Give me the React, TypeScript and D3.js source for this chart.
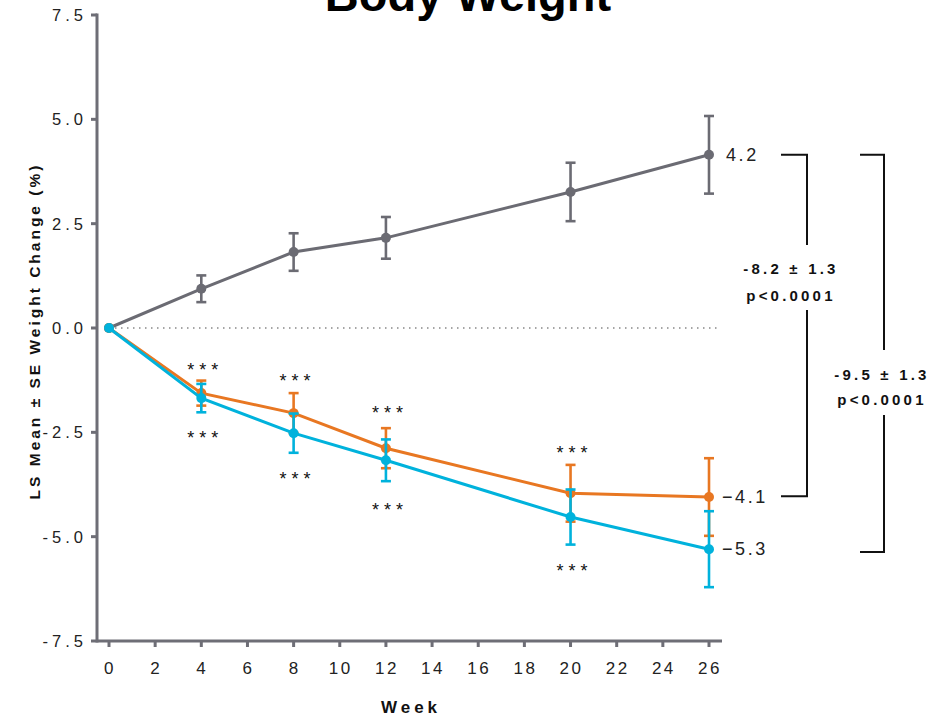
import React from "react";
import * as d3 from "d3";

const weeks = [0, 4, 8, 12, 20, 26];
const placeboMean = [0, 0.94, 1.82, 2.16, 3.26, 4.15];
const placeboSE = [0, 0.32, 0.45, 0.5, 0.7, 0.93];
const orangeMean = [0, -1.56, -2.04, -2.88, -3.96, -4.05];
const orangeSE = [0, 0.3, 0.48, 0.48, 0.68, 0.93];
const cyanMean = [0, -1.68, -2.52, -3.17, -4.53, -5.3];
const cyanSE = [0, 0.34, 0.47, 0.5, 0.66, 0.91];

const yTicks = [7.5, 5.0, 2.5, 0.0, -2.5, -5.0, -7.5];
const xTicks = d3.range(0, 27, 2);

const starWeeks = [4, 8, 12, 20];
const starsAbove = [-0.96, -1.22, -1.99, -2.95];
const starsBelow = [-2.59, -3.57, -4.32, -5.78];

const endLabels = ["4.2", "\u22124.1", "\u22125.3"];
const compare1 = ["-8.2 \u00b1 1.3", "p<0.0001"];
const compare2 = ["-9.5 \u00b1 1.3", "p<0.0001"];

const GRAY = "#6b6b73";
const ORANGE = "#e87722";
const CYAN = "#00b2dc";
const AXIS = "#6e6e76";
const FONT = "'Liberation Sans', Arial, Helvetica, sans-serif";

export default function App() {
  const W = 929, H = 716;
  const x = d3.scaleLinear().domain([0, 26]).range([109, 709]);
  const y = d3.scaleLinear().domain([-7.5, 7.5]).range([641, 15]);
  const line = d3.line<number>().x((_, i) => x(weeks[i])).y((v) => y(v));

  const series = [
    { mean: placeboMean, se: placeboSE, color: GRAY },
    { mean: orangeMean, se: orangeSE, color: ORANGE },
    { mean: cyanMean, se: cyanSE, color: CYAN },
  ];

  const axisLeft = 97;
  const axisBottom = 641;

  const bracket = (xl: number, xr: number, top: number, bottom: number, gapTop: number, gapBot: number) => (
    <g stroke="#111" strokeWidth={2} fill="none">
      <path d={`M${xl},${y(top)}H${xr}V${gapTop}`} />
      <path d={`M${xr},${gapBot}V${y(bottom)}H${xl}`} />
    </g>
  );

  return (
    <svg width={W} height={H} style={{ position: "absolute", left: 0, top: 0, background: "#fff" }} fontFamily={FONT}>
      {/* Title */}
      <text x={468} y={11} textAnchor="middle" fontSize={47} fontWeight="bold" fill="#000">Body Weight</text>

      {/* Y axis */}
      <line x1={axisLeft} x2={axisLeft} y1={y(7.5) - 1.5} y2={axisBottom + 1.5} stroke={AXIS} strokeWidth={3} />
      {yTicks.map((t) => (
        <g key={t}>
          <line x1={axisLeft - 6} x2={axisLeft} y1={y(t)} y2={y(t)} stroke={AXIS} strokeWidth={3} />
          <text x={87} y={y(t)} dy="0.36em" textAnchor="end" fontSize={16.5} letterSpacing={4} fill="#222">
            {t.toFixed(1)}
          </text>
        </g>
      ))}

      {/* X axis */}
      <line x1={axisLeft} x2={722} y1={axisBottom} y2={axisBottom} stroke={AXIS} strokeWidth={3} />
      {xTicks.map((t) => (
        <g key={t}>
          <line x1={x(t)} x2={x(t)} y1={axisBottom} y2={axisBottom + 6} stroke={AXIS} strokeWidth={3} />
          <text x={x(t) + 1} y={668} dy="0.36em" textAnchor="middle" fontSize={17} letterSpacing={2.5} fill="#222">
            {t}
          </text>
        </g>
      ))}

      {/* Axis titles */}
      <text x={411} y={713} textAnchor="middle" fontSize={17} fontWeight="bold" letterSpacing={4} fill="#111">Week</text>
      <text transform={`translate(40,${y(0) + 3}) rotate(-90)`} textAnchor="middle" fontSize={15.5} fontWeight="bold" letterSpacing={3} fill="#111">
        LS Mean ± SE Weight Change (%)
      </text>

      {/* Zero reference */}
      <line x1={x(0)} x2={720} y1={y(0)} y2={y(0)} stroke="#888" strokeWidth={1.5} strokeDasharray="1.5 4.5" />

      {/* Series */}
      {series.map((s, si) => (
        <g key={si}>
          <path d={line(s.mean) || ""} fill="none" stroke={s.color} strokeWidth={3} />
          {s.mean.map((m, i) =>
            s.se[i] > 0 ? (
              <g key={i} stroke={s.color} strokeWidth={2.6}>
                <line x1={x(weeks[i])} x2={x(weeks[i])} y1={y(m + s.se[i])} y2={y(m - s.se[i])} />
                <line x1={x(weeks[i]) - 5} x2={x(weeks[i]) + 5} y1={y(m + s.se[i])} y2={y(m + s.se[i])} />
                <line x1={x(weeks[i]) - 5} x2={x(weeks[i]) + 5} y1={y(m - s.se[i])} y2={y(m - s.se[i])} />
              </g>
            ) : null
          )}
          {s.mean.map((m, i) => (
            <circle key={"c" + i} cx={x(weeks[i])} cy={y(m)} r={5} fill={s.color} />
          ))}
        </g>
      ))}

      {/* Significance stars */}
      {starWeeks.map((w, i) => (
        <g key={w}>
          <text x={x(w) + 4} y={y(starsAbove[i]) + 8} textAnchor="middle" fontSize={18} letterSpacing={5} fill="#111">***</text>
          <text x={x(w) + 4} y={y(starsBelow[i]) + 8} textAnchor="middle" fontSize={18} letterSpacing={5} fill="#111">***</text>
        </g>
      ))}

      {/* End labels */}
      <text x={726} y={y(placeboMean[5])} dy="0.35em" fontSize={18} letterSpacing={2.6} fill="#222">{endLabels[0]}</text>
      <text x={722} y={y(orangeMean[5])} dy="0.35em" fontSize={18} letterSpacing={2.6} fill="#222">{endLabels[1]}</text>
      <text x={722} y={y(cyanMean[5])} dy="0.35em" fontSize={18} letterSpacing={2.6} fill="#222">{endLabels[2]}</text>

      {/* Brackets */}
      {bracket(781, 807, 4.15, -4.03, 245, 310)}
      {bracket(860, 884, 4.15, -5.37, 350, 415)}

      <g fontSize={15} fontWeight="bold" letterSpacing={3.2} fill="#111" textAnchor="middle">
        <text x={791} y={274}>{compare1[0]}</text>
        <text x={791} y={301}>{compare1[1]}</text>
        <text x={882} y={380}>{compare2[0]}</text>
        <text x={882} y={405}>{compare2[1]}</text>
      </g>
    </svg>
  );
}
